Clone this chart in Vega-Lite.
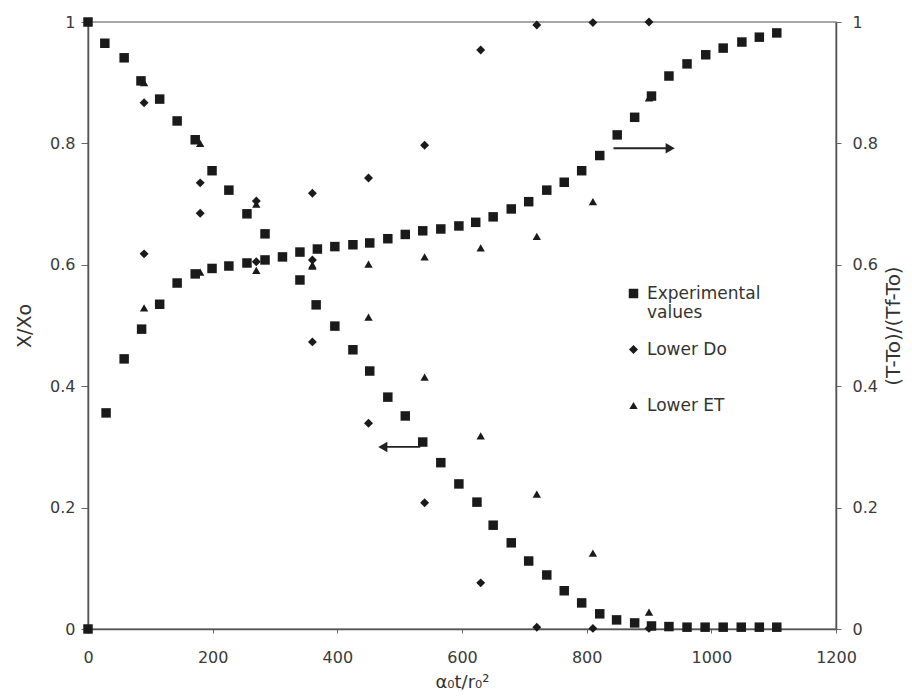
{
  "$schema": "https://vega.github.io/schema/vega-lite/v6.json",
  "width": 748,
  "height": 607,
  "autosize": {"type": "none"},
  "padding": {"left": 88, "top": 22, "right": 76, "bottom": 67},
  "background": "white",
  "config": {
    "font": "DejaVu Sans",
    "view": {"stroke": "#8a8a8a", "strokeWidth": 1.5},
    "axis": {"grid": false, "labelFlush": false, "labelFontSize": 16, "labelColor": "#3a3a3a", "titleFontSize": 19, "titleFontWeight": "normal", "titleColor": "#333", "domainColor": "#555", "domainWidth": 1.5, "tickColor": "#666"}
  },
  "datasets": {
    "pts": [
      {"t":0,"v":1.0,"s":"Experimental values","k":"X"},
      {"t":27,"v":0.965,"s":"Experimental values","k":"X"},
      {"t":58,"v":0.941,"s":"Experimental values","k":"X"},
      {"t":85,"v":0.903,"s":"Experimental values","k":"X"},
      {"t":115,"v":0.873,"s":"Experimental values","k":"X"},
      {"t":143,"v":0.837,"s":"Experimental values","k":"X"},
      {"t":172,"v":0.806,"s":"Experimental values","k":"X"},
      {"t":199,"v":0.755,"s":"Experimental values","k":"X"},
      {"t":226,"v":0.723,"s":"Experimental values","k":"X"},
      {"t":255,"v":0.684,"s":"Experimental values","k":"X"},
      {"t":284,"v":0.651,"s":"Experimental values","k":"X"},
      {"t":312,"v":0.613,"s":"Experimental values","k":"X"},
      {"t":340,"v":0.575,"s":"Experimental values","k":"X"},
      {"t":366,"v":0.534,"s":"Experimental values","k":"X"},
      {"t":396,"v":0.499,"s":"Experimental values","k":"X"},
      {"t":425,"v":0.460,"s":"Experimental values","k":"X"},
      {"t":452,"v":0.425,"s":"Experimental values","k":"X"},
      {"t":481,"v":0.382,"s":"Experimental values","k":"X"},
      {"t":509,"v":0.351,"s":"Experimental values","k":"X"},
      {"t":537,"v":0.308,"s":"Experimental values","k":"X"},
      {"t":566,"v":0.274,"s":"Experimental values","k":"X"},
      {"t":595,"v":0.239,"s":"Experimental values","k":"X"},
      {"t":624,"v":0.209,"s":"Experimental values","k":"X"},
      {"t":650,"v":0.171,"s":"Experimental values","k":"X"},
      {"t":679,"v":0.142,"s":"Experimental values","k":"X"},
      {"t":707,"v":0.112,"s":"Experimental values","k":"X"},
      {"t":736,"v":0.089,"s":"Experimental values","k":"X"},
      {"t":764,"v":0.063,"s":"Experimental values","k":"X"},
      {"t":792,"v":0.043,"s":"Experimental values","k":"X"},
      {"t":821,"v":0.025,"s":"Experimental values","k":"X"},
      {"t":848,"v":0.015,"s":"Experimental values","k":"X"},
      {"t":877,"v":0.010,"s":"Experimental values","k":"X"},
      {"t":904,"v":0.005,"s":"Experimental values","k":"X"},
      {"t":932,"v":0.004,"s":"Experimental values","k":"X"},
      {"t":961,"v":0.003,"s":"Experimental values","k":"X"},
      {"t":990,"v":0.003,"s":"Experimental values","k":"X"},
      {"t":1019,"v":0.003,"s":"Experimental values","k":"X"},
      {"t":1048,"v":0.003,"s":"Experimental values","k":"X"},
      {"t":1077,"v":0.003,"s":"Experimental values","k":"X"},
      {"t":1105,"v":0.003,"s":"Experimental values","k":"X"},
      {"t":90,"v":0.867,"s":"Lower Do","k":"X"},
      {"t":180,"v":0.735,"s":"Lower Do","k":"X"},
      {"t":270,"v":0.705,"s":"Lower Do","k":"X"},
      {"t":360,"v":0.608,"s":"Lower Do","k":"X"},
      {"t":360,"v":0.473,"s":"Lower Do","k":"X"},
      {"t":450,"v":0.339,"s":"Lower Do","k":"X"},
      {"t":540,"v":0.208,"s":"Lower Do","k":"X"},
      {"t":630,"v":0.076,"s":"Lower Do","k":"X"},
      {"t":720,"v":0.003,"s":"Lower Do","k":"X"},
      {"t":810,"v":0.001,"s":"Lower Do","k":"X"},
      {"t":900,"v":0.001,"s":"Lower Do","k":"X"},
      {"t":90,"v":0.900,"s":"Lower ET","k":"X"},
      {"t":180,"v":0.800,"s":"Lower ET","k":"X"},
      {"t":270,"v":0.700,"s":"Lower ET","k":"X"},
      {"t":360,"v":0.600,"s":"Lower ET","k":"X"},
      {"t":450,"v":0.514,"s":"Lower ET","k":"X"},
      {"t":540,"v":0.415,"s":"Lower ET","k":"X"},
      {"t":630,"v":0.318,"s":"Lower ET","k":"X"},
      {"t":720,"v":0.222,"s":"Lower ET","k":"X"},
      {"t":810,"v":0.125,"s":"Lower ET","k":"X"},
      {"t":900,"v":0.028,"s":"Lower ET","k":"X"},
      {"t":0,"v":0.0,"s":"Experimental values","k":"T"},
      {"t":29,"v":0.356,"s":"Experimental values","k":"T"},
      {"t":58,"v":0.445,"s":"Experimental values","k":"T"},
      {"t":86,"v":0.494,"s":"Experimental values","k":"T"},
      {"t":115,"v":0.535,"s":"Experimental values","k":"T"},
      {"t":143,"v":0.570,"s":"Experimental values","k":"T"},
      {"t":172,"v":0.585,"s":"Experimental values","k":"T"},
      {"t":199,"v":0.594,"s":"Experimental values","k":"T"},
      {"t":226,"v":0.598,"s":"Experimental values","k":"T"},
      {"t":255,"v":0.603,"s":"Experimental values","k":"T"},
      {"t":284,"v":0.608,"s":"Experimental values","k":"T"},
      {"t":340,"v":0.621,"s":"Experimental values","k":"T"},
      {"t":368,"v":0.626,"s":"Experimental values","k":"T"},
      {"t":396,"v":0.630,"s":"Experimental values","k":"T"},
      {"t":425,"v":0.633,"s":"Experimental values","k":"T"},
      {"t":452,"v":0.636,"s":"Experimental values","k":"T"},
      {"t":481,"v":0.643,"s":"Experimental values","k":"T"},
      {"t":509,"v":0.650,"s":"Experimental values","k":"T"},
      {"t":537,"v":0.656,"s":"Experimental values","k":"T"},
      {"t":566,"v":0.659,"s":"Experimental values","k":"T"},
      {"t":595,"v":0.664,"s":"Experimental values","k":"T"},
      {"t":622,"v":0.670,"s":"Experimental values","k":"T"},
      {"t":650,"v":0.679,"s":"Experimental values","k":"T"},
      {"t":679,"v":0.692,"s":"Experimental values","k":"T"},
      {"t":707,"v":0.704,"s":"Experimental values","k":"T"},
      {"t":736,"v":0.723,"s":"Experimental values","k":"T"},
      {"t":764,"v":0.736,"s":"Experimental values","k":"T"},
      {"t":792,"v":0.755,"s":"Experimental values","k":"T"},
      {"t":821,"v":0.780,"s":"Experimental values","k":"T"},
      {"t":849,"v":0.814,"s":"Experimental values","k":"T"},
      {"t":877,"v":0.843,"s":"Experimental values","k":"T"},
      {"t":904,"v":0.878,"s":"Experimental values","k":"T"},
      {"t":932,"v":0.911,"s":"Experimental values","k":"T"},
      {"t":961,"v":0.931,"s":"Experimental values","k":"T"},
      {"t":991,"v":0.946,"s":"Experimental values","k":"T"},
      {"t":1019,"v":0.957,"s":"Experimental values","k":"T"},
      {"t":1049,"v":0.967,"s":"Experimental values","k":"T"},
      {"t":1077,"v":0.975,"s":"Experimental values","k":"T"},
      {"t":1105,"v":0.982,"s":"Experimental values","k":"T"},
      {"t":90,"v":0.618,"s":"Lower Do","k":"T"},
      {"t":180,"v":0.685,"s":"Lower Do","k":"T"},
      {"t":270,"v":0.605,"s":"Lower Do","k":"T"},
      {"t":360,"v":0.718,"s":"Lower Do","k":"T"},
      {"t":450,"v":0.743,"s":"Lower Do","k":"T"},
      {"t":540,"v":0.797,"s":"Lower Do","k":"T"},
      {"t":630,"v":0.954,"s":"Lower Do","k":"T"},
      {"t":720,"v":0.995,"s":"Lower Do","k":"T"},
      {"t":810,"v":0.999,"s":"Lower Do","k":"T"},
      {"t":900,"v":1.0,"s":"Lower Do","k":"T"},
      {"t":90,"v":0.529,"s":"Lower ET","k":"T"},
      {"t":180,"v":0.588,"s":"Lower ET","k":"T"},
      {"t":270,"v":0.591,"s":"Lower ET","k":"T"},
      {"t":360,"v":0.598,"s":"Lower ET","k":"T"},
      {"t":450,"v":0.601,"s":"Lower ET","k":"T"},
      {"t":540,"v":0.613,"s":"Lower ET","k":"T"},
      {"t":630,"v":0.628,"s":"Lower ET","k":"T"},
      {"t":720,"v":0.647,"s":"Lower ET","k":"T"},
      {"t":810,"v":0.704,"s":"Lower ET","k":"T"},
      {"t":900,"v":0.875,"s":"Lower ET","k":"T"}
    ],
    "arrows": [
      {"from": 533, "to": 478, "head": 473, "y": 0.30, "dir": "triangle-left"},
      {"from": 843, "to": 930, "head": 934, "y": 0.792, "dir": "triangle-right"}
    ]
  },
  "layer": [
    {
      "data": {"name": "pts"},
      "transform": [{"filter": "datum.k == 'X'"}],
      "mark": {"type": "point", "filled": true, "opacity": 1, "color": "#1a1a1a"},
      "encoding": {
        "x": {"field": "t", "type": "quantitative", "scale": {"domain": [0, 1200], "nice": false},
          "axis": {"values": [0,200,400,600,800,1000,1200], "format": "d", "title": "α₀t/r₀²", "titleFontSize": 18, "tickSize": 4, "labelPadding": 16, "titlePadding": 8}},
        "y": {"field": "v", "type": "quantitative", "scale": {"domain": [0, 1], "nice": false},
          "axis": {"values": [0,0.2,0.4,0.6,0.8,1], "format": "~g", "title": "X/Xo", "tickSize": 7, "labelPadding": 6, "titlePadding": 15}},
        "shape": {"field": "s", "type": "nominal",
          "scale": {"domain": ["Experimental values", "Lower Do", "Lower ET"], "range": ["square", "diamond", "triangle-up"]},
          "legend": {"orient": "none", "legendX": 537, "legendY": 263, "title": null, "symbolFillColor": "#1a1a1a", "symbolStrokeColor": "#1a1a1a", "labelFontSize": 17, "labelColor": "#333", "labelOffset": 5, "labelBaseline": "middle", "labelLimit": 300,
            "labelExpr": "datum.label == 'Experimental values' ? ['Experimental', 'values'] : [datum.label, ' ']",
            "rowPadding": 19}},
        "size": {"field": "s", "type": "nominal", "scale": {"domain": ["Experimental values", "Lower Do", "Lower ET"], "range": [90, 70, 80]}}
      }
    },
    {
      "data": {"name": "arrows"},
      "mark": {"type": "rule", "color": "#222", "strokeWidth": 1.8},
      "encoding": {
        "x": {"field": "from", "type": "quantitative", "scale": {"domain": [0, 1200], "nice": false}},
        "x2": {"field": "to"},
        "y": {"field": "y", "type": "quantitative", "scale": {"domain": [0, 1], "nice": false}, "axis": null}
      }
    },
    {
      "data": {"name": "arrows"},
      "mark": {"type": "point", "filled": true, "opacity": 1, "color": "#222", "size": 110},
      "encoding": {
        "x": {"field": "head", "type": "quantitative", "scale": {"domain": [0, 1200], "nice": false}},
        "y": {"field": "y", "type": "quantitative", "scale": {"domain": [0, 1], "nice": false}, "axis": null},
        "shape": {"field": "dir", "type": "nominal", "scale": null, "legend": null}
      }
    },
    {
      "data": {"name": "pts"},
      "transform": [{"filter": "datum.k == 'T'"}],
      "mark": {"type": "point", "filled": true, "opacity": 1, "color": "#1a1a1a"},
      "encoding": {
        "x": {"field": "t", "type": "quantitative", "scale": {"domain": [0, 1200], "nice": false}},
        "y": {"field": "v", "type": "quantitative", "scale": {"domain": [0, 1], "nice": false},
          "axis": {"orient": "right", "values": [0,0.2,0.4,0.6,0.8,1], "format": "~g", "title": "(T-To)/(Tf-To)", "titleAngle": 270, "titleFontSize": 20, "tickSize": 5, "labelPadding": 11, "titlePadding": 26}},
        "shape": {"field": "s", "type": "nominal"},
        "size": {"field": "s", "type": "nominal"}
      }
    }
  ],
  "resolve": {"scale": {"y": "independent"}}
}
